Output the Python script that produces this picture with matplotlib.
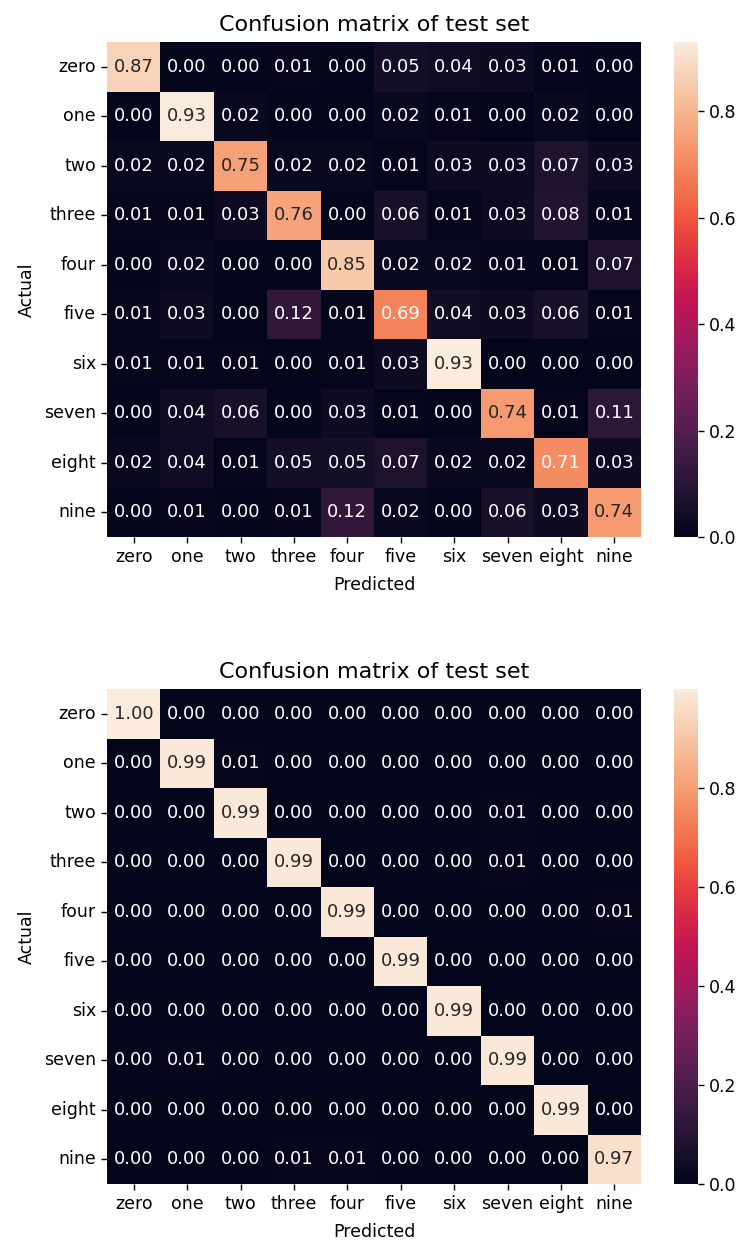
import numpy as np
import matplotlib
matplotlib.use("Agg")
import matplotlib.pyplot as plt
import seaborn as sns

labels = ["zero", "one", "two", "three", "four", "five", "six", "seven", "eight", "nine"]

cm_top = [
    [0.87, 0.00, 0.00, 0.01, 0.00, 0.05, 0.04, 0.03, 0.01, 0.00],
    [0.00, 0.93, 0.02, 0.00, 0.00, 0.02, 0.01, 0.00, 0.02, 0.00],
    [0.02, 0.02, 0.75, 0.02, 0.02, 0.01, 0.03, 0.03, 0.07, 0.03],
    [0.01, 0.01, 0.03, 0.76, 0.00, 0.06, 0.01, 0.03, 0.08, 0.01],
    [0.00, 0.02, 0.00, 0.00, 0.85, 0.02, 0.02, 0.01, 0.01, 0.07],
    [0.01, 0.03, 0.00, 0.12, 0.01, 0.69, 0.04, 0.03, 0.06, 0.01],
    [0.01, 0.01, 0.01, 0.00, 0.01, 0.03, 0.93, 0.00, 0.00, 0.00],
    [0.00, 0.04, 0.06, 0.00, 0.03, 0.01, 0.00, 0.74, 0.01, 0.11],
    [0.02, 0.04, 0.01, 0.05, 0.05, 0.07, 0.02, 0.02, 0.71, 0.03],
    [0.00, 0.01, 0.00, 0.01, 0.12, 0.02, 0.00, 0.06, 0.03, 0.74],
]

cm_bottom = [
    [1.00, 0.00, 0.00, 0.00, 0.00, 0.00, 0.00, 0.00, 0.00, 0.00],
    [0.00, 0.99, 0.01, 0.00, 0.00, 0.00, 0.00, 0.00, 0.00, 0.00],
    [0.00, 0.00, 0.99, 0.00, 0.00, 0.00, 0.00, 0.01, 0.00, 0.00],
    [0.00, 0.00, 0.00, 0.99, 0.00, 0.00, 0.00, 0.01, 0.00, 0.00],
    [0.00, 0.00, 0.00, 0.00, 0.99, 0.00, 0.00, 0.00, 0.00, 0.01],
    [0.00, 0.00, 0.00, 0.00, 0.00, 0.99, 0.00, 0.00, 0.00, 0.00],
    [0.00, 0.00, 0.00, 0.00, 0.00, 0.00, 0.99, 0.00, 0.00, 0.00],
    [0.00, 0.01, 0.00, 0.00, 0.00, 0.00, 0.00, 0.99, 0.00, 0.00],
    [0.00, 0.00, 0.00, 0.00, 0.00, 0.00, 0.00, 0.00, 0.99, 0.00],
    [0.00, 0.00, 0.00, 0.01, 0.01, 0.00, 0.00, 0.00, 0.00, 0.97],
]

W, H = 744, 1244
fig = plt.figure(figsize=(W / 100, H / 100), dpi=100)

def px_rect(x0, y0, x1, y1):
    return [x0 / W, 1 - y1 / H, (x1 - x0) / W, (y1 - y0) / H]

panels = [
    (cm_top, (107, 42, 641, 537), (674, 42, 698, 537)),
    (cm_bottom, (107, 689, 641, 1184), (674, 689, 698, 1184)),
]

FS = 12.5
for data, axr, cbr in panels:
    ax = fig.add_axes(px_rect(*axr))
    cax = fig.add_axes(px_rect(*cbr))
    arr = np.array(data)
    sns.heatmap(arr, annot=True, fmt=".2f", xticklabels=labels, yticklabels=labels,
                ax=ax, cbar_ax=cax, annot_kws={"fontsize": 13})
    ax.set_title("Confusion matrix of test set", fontsize=16, pad=8)
    ax.set_xlabel("Predicted", fontsize=FS, labelpad=7)
    ax.set_ylabel("Actual", fontsize=FS, labelpad=6)
    ax.tick_params(axis="x", rotation=0, labelsize=FS, length=4.5, width=1)
    ax.tick_params(axis="y", rotation=0, labelsize=FS, length=4.5, width=1)
    cax.set_yticks([0.0, 0.2, 0.4, 0.6, 0.8])
    cax.tick_params(labelsize=FS, length=4.5, width=1)

fig.savefig("out.png", dpi=100)
